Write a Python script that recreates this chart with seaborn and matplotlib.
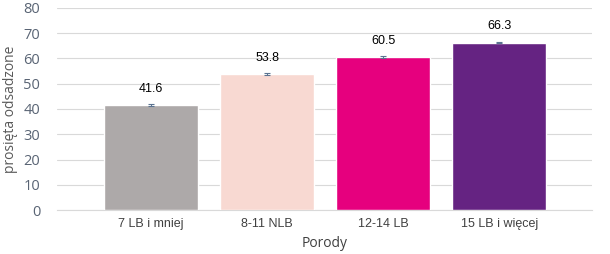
import matplotlib
matplotlib.use("Agg")
import matplotlib.pyplot as plt
import seaborn as sns
import pandas as pd

categories = ["7 LB i mniej", "8-11 NLB", "12-14 LB", "15 LB i więcej"]
values = [41.6, 53.8, 60.5, 66.3]
errors = [0.5, 0.5, 0.5, 0.3]
colors = ["#ADA9A9", "#F8D9D2", "#E6007E", "#652382"]
yticks = [0, 10, 20, 30, 40, 50, 60, 70, 80]

sns.set_theme(style="white")
plt.rcParams['font.family'] = ['Open Sans', 'DejaVu Sans']

df = pd.DataFrame({"cat": categories, "val": values})
fig = plt.figure(figsize=(6.10, 2.54), dpi=100)
ax = fig.add_axes([57/610, 1-210/254, (592-57)/610, (210-8)/254])

sns.barplot(data=df, x="cat", y="val", hue="cat", palette=colors, legend=False,
            errorbar=None, width=0.81, ax=ax, saturation=1, zorder=3)
ax.errorbar(range(len(values)), values, yerr=errors, fmt="none",
            ecolor="#5B7391", elinewidth=0.8, capsize=2.5, capthick=0.8, zorder=4)

for i, v in enumerate(values):
    ax.text(i, v + 6.5, f"{v:.1f}", ha="center", va="center", fontsize=9,
            family=["Liberation Sans", "DejaVu Sans"], color="#000000")

ax.set_ylim(0, 80)
ax.set_xlim(-0.81, 3.80)
ax.set_yticks(yticks)
ax.set_yticklabels([str(t) for t in yticks])
ax.yaxis.grid(True, color="#D9D9D9", linewidth=0.8, zorder=0)
ax.set_axisbelow(True)
for s in ["top", "right", "left"]:
    ax.spines[s].set_visible(False)
ax.spines["bottom"].set_color("#D9D9D9")
ax.spines["bottom"].set_linewidth(0.8)
ax.tick_params(axis="y", labelsize=10.5, colors="#596474", length=0, pad=12)
ax.tick_params(axis="x", labelsize=9, colors="#404040", length=0, pad=6)
for lbl in ax.get_xticklabels():
    lbl.set_family(["Liberation Sans", "DejaVu Sans"])
ax.set_xlabel("Porody", fontsize=10, color="#404040", labelpad=4)
ax.set_ylabel("prosięta odsadzone", fontsize=10, color="#595959", labelpad=4)

fig.savefig("out.png", dpi=100)
